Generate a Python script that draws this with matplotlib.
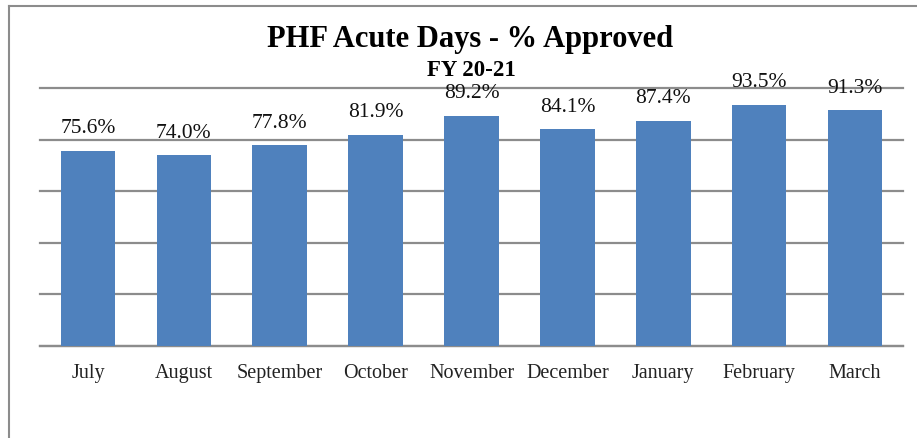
import matplotlib
matplotlib.use('Agg')
import matplotlib.pyplot as plt
from matplotlib.lines import Line2D

months = ['July', 'August', 'September', 'October', 'November',
          'December', 'January', 'February', 'March']
pct = [75.6, 74.0, 77.8, 81.9, 89.2, 84.1, 87.4, 93.5, 91.3]
labels = ['75.6%', '74.0%', '77.8%', '81.9%', '89.2%',
          '84.1%', '87.4%', '93.5%', '91.3%']

plt.rcParams['font.family'] = ['Liberation Serif', 'DejaVu Serif']

fig = plt.figure(figsize=(9.17, 4.38), dpi=100)
W, H = 917, 438
ax = fig.add_axes([40 / W, 1 - 346 / H, (903 - 40) / W, (346 - 88) / H])

x = range(len(months))
ax.bar(x, pct, width=0.57, color='#4F81BD', zorder=3)
ax.set_xlim(-0.5, len(months) - 0.5)
ax.set_ylim(0, 100)
ax.set_yticks([0, 20, 40, 60, 80, 100])
ax.yaxis.grid(True, color='#8C8C8C', linewidth=1.6, zorder=1)
for gl in ax.get_ygridlines():
    gl.set_clip_on(False)
ax.set_yticklabels([])
ax.tick_params(axis='y', length=0)
ax.tick_params(axis='x', length=0, pad=13, labelsize=14.5, colors='#222222')
ax.set_xticks(list(x))
ax.set_xticklabels(months)
for s in ['top', 'right', 'left']:
    ax.spines[s].set_visible(False)
ax.spines['bottom'].set_color('#8C8C8C')
ax.spines['bottom'].set_linewidth(1.6)

for i, (v, t) in enumerate(zip(pct, labels)):
    ax.annotate(t, (i, v), xytext=(0, 9), textcoords='offset points',
                ha='center', va='bottom', fontsize=15.5, color='#111111',
                zorder=4)

fig.text(470 / W, 1 - 40 / H, 'PHF Acute Days - % Approved', ha='center',
         va='center', fontsize=22, fontweight='bold')
fig.text(471 / W, 1 - 71 / H, 'FY 20-21', ha='center', va='center',
         fontsize=16.5, fontweight='bold')

# outer chart border (left and top edges visible)
fig.add_artist(Line2D([9 / W, 9 / W], [0, 1 - 6 / H], color='#8C8C8C',
                      linewidth=1.5, transform=fig.transFigure))
fig.add_artist(Line2D([9 / W, 1], [1 - 6 / H, 1 - 6 / H], color='#8C8C8C',
                      linewidth=1.5, transform=fig.transFigure))

fig.savefig('out.png', dpi=100)
